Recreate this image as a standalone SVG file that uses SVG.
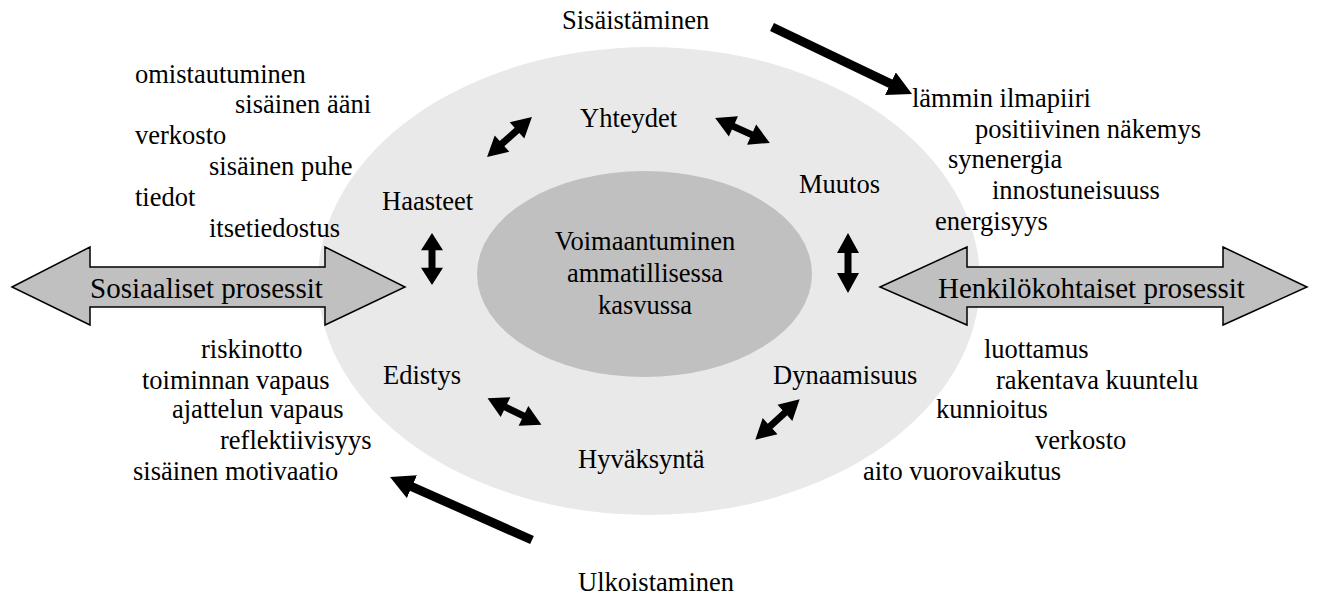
<svg xmlns="http://www.w3.org/2000/svg" width="1317" height="607" viewBox="0 0 1317 607">
<style>
text{font-family:'Liberation Serif','DejaVu Serif','Noto Serif','Times New Roman',Times,serif;font-size:26.5px;fill:#000}
.big{font-size:29px}
.bigarrow{fill:#c0c0c0;stroke:#000;stroke-width:1.5;stroke-linejoin:miter}
.thick{stroke:#000;stroke-width:9;fill:none}
.dbl{fill:#000}
</style>
<defs>
<marker id="head" markerUnits="userSpaceOnUse" markerWidth="26" markerHeight="26" refX="4" refY="12.5" orient="auto" viewBox="0 0 26 26">
<path d="M0,0 L24,12.5 L0,25 z" fill="#000"/>
</marker>
<path id="dblarrow" d="M-30,0 L-10,-11 L-10,-3.5 L10,-3.5 L10,-11 L30,0 L10,11 L10,3.5 L-10,3.5 L-10,11 z"/>
</defs>
<g font-family="Liberation Serif, DejaVu Serif, serif">
<g id="outer-ellipse"><ellipse cx="649" cy="281" rx="331" ry="234" fill="#e9e9e9"/></g>
<g id="center"><ellipse cx="644.5" cy="274" rx="167.5" ry="103" fill="#c0c0c0"/>
<text x="645" y="250" text-anchor="middle">Voimaantuminen</text>
<text x="645" y="282" text-anchor="middle">ammatillisessa</text>
<text x="645" y="314" text-anchor="middle">kasvussa</text></g>
<g id="sosiaaliset"><polygon class="bigarrow" points="12,287 90,247 90,267 325,267 325,247 405,287 325,325 325,307 90,307 90,325"/>
<text class="big" x="90" y="298">Sosiaaliset prosessit</text></g>
<g id="henkilokohtaiset"><polygon class="bigarrow" points="880,287 967,247 967,267 1223,267 1223,247 1307,287 1223,325 1223,307 967,307 967,325"/>
<text class="big" x="938" y="298">Henkilökohtaiset prosessit</text></g>
<g id="yhteydet"><text x="580" y="127">Yhteydet</text></g>
<g id="haasteet"><text x="382" y="210">Haasteet</text></g>
<g id="muutos"><text x="799" y="193">Muutos</text></g>
<g id="edistys"><text x="383" y="384">Edistys</text></g>
<g id="dynaamisuus"><text x="773" y="384">Dynaamisuus</text></g>
<g id="hyvaksynta"><text x="578" y="468">Hyväksyntä</text></g>
<g id="sisaistaminen"><text x="562" y="29">Sisäistäminen</text></g>
<g id="ulkoistaminen"><text x="578" y="591">Ulkoistaminen</text></g>
<g id="list-top-left">
<text x="135" y="83">omistautuminen</text>
<text x="235" y="113">sisäinen ääni</text>
<text x="135" y="144">verkosto</text>
<text x="209" y="175">sisäinen puhe</text>
<text x="135" y="206">tiedot</text>
<text x="209" y="237">itsetiedostus</text>
</g>
<g id="list-top-right">
<text x="912" y="107">lämmin ilmapiiri</text>
<text x="975" y="138">positiivinen näkemys</text>
<text x="948" y="168">synenergia</text>
<text x="992" y="199">innostuneisuuss</text>
<text x="935" y="230">energisyys</text>
</g>
<g id="list-bottom-left">
<text x="201" y="358">riskinotto</text>
<text x="142" y="389">toiminnan vapaus</text>
<text x="172" y="418">ajattelun vapaus</text>
<text x="220" y="449">reflektiivisyys</text>
<text x="133" y="480">sisäinen motivaatio</text>
</g>
<g id="list-bottom-right">
<text x="984" y="358">luottamus</text>
<text x="996" y="389">rakentava kuuntelu</text>
<text x="936" y="418">kunnioitus</text>
<text x="1035" y="449">verkosto</text>
<text x="863" y="480">aito vuorovaikutus</text>
</g>
<g id="connectors">
<line class="thick" x1="772" y1="27" x2="894" y2="85.4" marker-end="url(#head)"/>
<line class="thick" x1="532" y1="540" x2="408.3" y2="485.1" marker-end="url(#head)"/>
<use href="#dblarrow" class="dbl" transform="translate(509.5,137) rotate(-41.6)"/>
<use href="#dblarrow" class="dbl" transform="translate(742.5,130.5) rotate(24.4)"/>
<use href="#dblarrow" class="dbl" transform="translate(432,259) rotate(90) scale(0.87,1)"/>
<use href="#dblarrow" class="dbl" transform="translate(848,263) rotate(90)"/>
<use href="#dblarrow" class="dbl" transform="translate(514.5,411.5) rotate(26.1)"/>
<use href="#dblarrow" class="dbl" transform="translate(777.5,419.5) rotate(-42.3)"/>
</g>
</g>
</svg>
